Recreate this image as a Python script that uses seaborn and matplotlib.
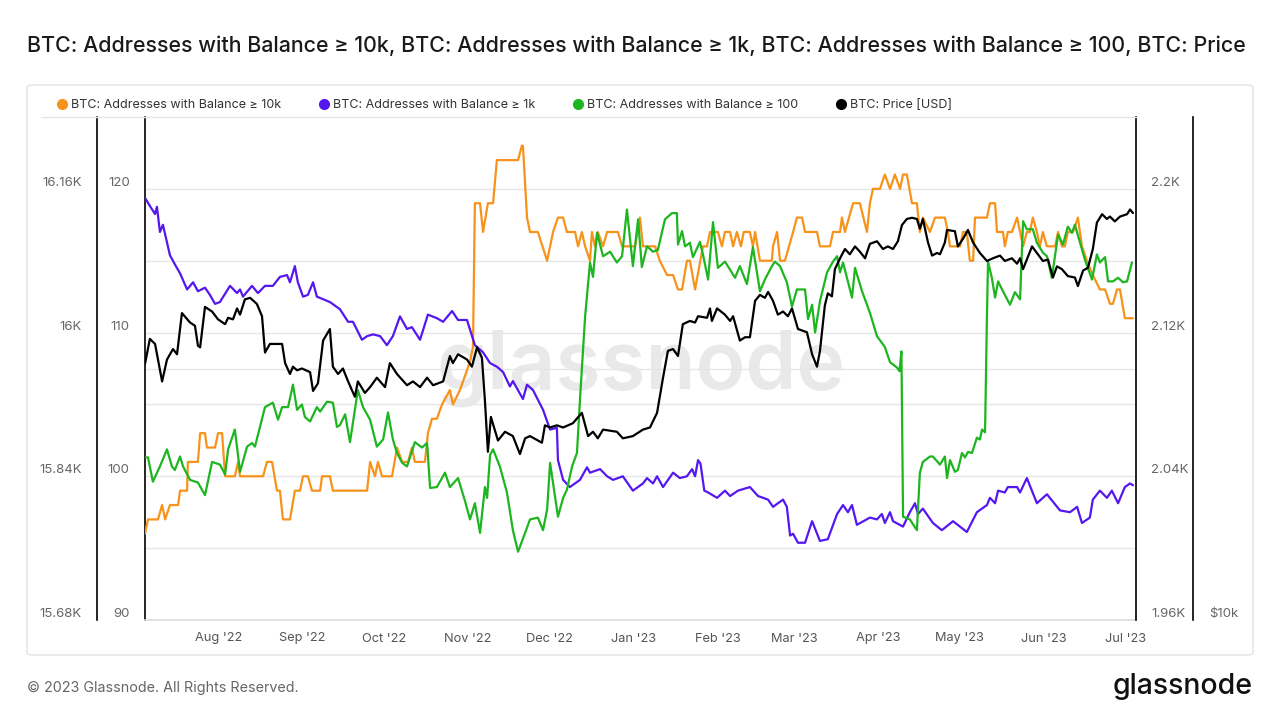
import pandas as pd
import numpy as np
import matplotlib
matplotlib.use('Agg')
import matplotlib.pyplot as plt
import matplotlib.dates as mdates
import seaborn as sns
from matplotlib.lines import Line2D
from matplotlib.patches import FancyBboxPatch
from matplotlib.ticker import FixedLocator, FuncFormatter, NullLocator
from matplotlib.transforms import blended_transform_factory

sns.set_theme(style='white')
plt.rcParams['font.family'] = ['Inter', 'DejaVu Sans']

# --- dati (giorni dal 2022-07-05, valore) ---
START = pd.Timestamp('2022-07-05')
TITLE = ('BTC: Addresses with Balance \u2265 10k, BTC: Addresses with Balance \u2265 1k, '
         'BTC: Addresses with Balance \u2265 100, BTC: Price')
LABELS = ['BTC: Addresses with Balance \u2265 10k', 'BTC: Addresses with Balance \u2265 1k',
          'BTC: Addresses with Balance \u2265 100', 'BTC: Price [USD]']
COLORS = ['#F7931A', '#5517F0', '#1DB520', '#000000']

ORANGE = [(0, 96), (1.1, 97), (4.8, 97), (6.3, 98), (7.4, 97), (9.2, 98), (12.2, 98), (12.9, 99), (15.5, 99), (15.8, 101),
          (19.5, 101), (20.3, 103), (22.1, 103), (22.8, 102), (25.8, 102), (26.9, 103), (28.4, 103), (29.5, 100), (33.1, 100), (34.3, 101),
          (35.0, 100), (43.5, 100), (44.9, 101), (46.8, 101), (48.6, 99), (49.7, 99), (50.8, 97), (53.4, 97), (55.2, 99), (57.1, 99),
          (58.2, 100), (60.0, 100), (61.5, 99), (64.5, 99), (65.2, 100), (68.1, 100), (69.2, 99), (81.8, 99), (82.9, 101), (84.7, 100),
          (85.8, 101), (87.3, 100), (91.0, 100), (92.8, 102), (94.7, 101), (96.9, 101), (98.3, 102), (99.4, 101), (103.1, 101), (104.2, 103),
          (105.7, 104), (107.5, 104), (109.4, 105), (112.3, 106), (113.4, 105), (116.0, 106), (117.9, 107), (119.7, 108), (120.8, 109), (121.5, 119),
          (123.4, 119), (124.5, 117), (126.3, 119), (128.2, 119), (129.6, 122), (137.4, 122), (138.8, 123), (139.2, 123), (140.7, 118), (141.8, 117),
          (144.7, 117), (148.1, 115), (150.3, 117), (152.1, 118), (154.0, 118), (155.4, 117), (158.4, 117), (159.5, 116), (160.9, 117), (162.1, 116),
          (163.9, 115), (164.6, 117), (165.7, 116), (166.8, 117), (168.7, 116), (170.2, 117), (174.2, 117), (175.7, 116), (180.5, 116), (182.3, 118),
          (183.4, 116), (187.9, 116), (189.6, 115), (192.3, 114), (194.5, 114), (196.3, 113), (197.8, 113), (199.6, 115), (200.7, 115), (202.6, 113),
          (205.5, 116), (207.0, 116), (208.1, 117), (211.0, 117), (212.5, 116), (213.6, 117), (215.5, 117), (216.6, 116), (218.0, 117), (219.5, 116),
          (220.5, 117), (222.8, 117), (223.9, 116), (224.7, 117), (226.5, 115), (230.9, 115), (231.3, 116), (232.8, 117), (233.9, 115), (235.7, 115),
          (238.7, 117), (240.1, 118), (242.0, 118), (243.1, 117), (247.5, 117), (248.6, 116), (252.3, 116), (253.4, 117), (256.0, 117), (256.7, 118),
          (257.8, 117), (260.8, 119), (263.3, 119), (265.9, 117), (267.0, 119), (268.1, 120), (270.7, 120), (272.5, 121), (274.4, 120), (276.2, 121),
          (278.1, 120), (279.2, 121), (280.6, 121), (282.5, 119), (284.3, 119), (285.4, 117), (286.5, 118), (289.1, 117), (291.0, 118), (294.6, 118),
          (295.7, 117), (296.5, 116), (300.2, 116), (301.3, 117), (302.7, 117), (303.8, 115), (305.0, 115), (305.7, 118), (310.1, 118), (311.2, 119),
          (313.1, 119), (313.8, 117), (316.0, 117), (316.7, 116), (317.8, 117), (319.3, 117), (321.2, 118), (322.3, 117), (323.4, 116), (324.8, 117),
          (325.9, 117), (327.0, 118), (328.5, 117), (329.6, 116), (330.7, 117), (332.2, 116), (335.2, 116), (336.3, 117), (337.7, 116), (338.8, 116),
          (339.9, 117), (341.8, 117), (343.6, 118), (345.1, 116), (346.9, 115), (349.1, 114), (351.7, 113), (353.6, 113), (355.4, 112), (356.5, 112),
          (358.0, 113), (359.1, 113), (360.9, 111), (363.9, 111)]

PURPLE = [(0, 2195), (2, 2190), (3.7, 2186), (4.4, 2190), (5.5, 2176), (6.6, 2180), (9.2, 2163), (11.0, 2158), (12.9, 2153), (15.5, 2144),
          (17.7, 2148), (19.5, 2143), (22.1, 2145), (23.9, 2141), (25.8, 2136), (27.6, 2137), (31.3, 2146), (33.9, 2142), (35.0, 2144), (36.1, 2140),
          (39.4, 2146), (41.6, 2142), (44.2, 2146), (47.1, 2146), (49.7, 2151), (52.3, 2152), (53.4, 2148), (55.2, 2157), (56.3, 2148), (58.2, 2140),
          (60.0, 2141), (61.9, 2148), (63.3, 2140), (68.1, 2137), (71.8, 2133), (74.8, 2126), (76.6, 2126), (79.9, 2116), (81.8, 2118), (84.0, 2119),
          (86.6, 2118), (89.1, 2113), (91.3, 2118), (93.9, 2129), (96.5, 2122), (98.3, 2123), (101.3, 2116), (104.2, 2130), (107.5, 2128), (109.8, 2126),
          (113.1, 2132), (115.3, 2127), (118.6, 2127), (121.5, 2113), (124.5, 2109), (127.1, 2103), (129.6, 2101), (131.9, 2098), (134.4, 2090), (135.5, 2093),
          (139.2, 2083), (140.7, 2091), (142.9, 2088), (146.6, 2077), (149.2, 2066), (151.7, 2067), (152.1, 2049), (154.0, 2038), (156.5, 2034), (160.2, 2038),
          (162.8, 2045), (163.9, 2042), (167.6, 2044), (170.2, 2040), (172.4, 2038), (176.0, 2040), (179.7, 2032), (183.4, 2036), (184.9, 2039), (187.1, 2036),
          (188.6, 2040), (190.8, 2034), (194.5, 2042), (197.0, 2039), (199.6, 2040), (201.5, 2044), (202.6, 2040), (203.7, 2049), (204.6, 2047), (206.0, 2032),
          (207.4, 2031), (210.7, 2028), (213.6, 2032), (215.5, 2029), (218.4, 2032), (222.8, 2034), (225.8, 2029), (229.5, 2027), (231.3, 2023), (235.0, 2027),
          (236.4, 2023), (237.6, 2007), (238.7, 2008), (240.5, 2003), (243.1, 2003), (245.7, 2015), (248.6, 2004), (251.5, 2005), (254.9, 2019), (257.1, 2024),
          (258.9, 2020), (260.4, 2024), (262.2, 2013), (267.0, 2017), (269.6, 2016), (271.4, 2019), (272.5, 2014), (274.4, 2020), (275.5, 2015), (279.2, 2012),
          (281.7, 2020), (283.6, 2025), (284.7, 2019), (286.5, 2022), (290.2, 2014), (293.5, 2010), (297.6, 2015), (302.7, 2009), (306.4, 2020), (310.1, 2024),
          (311.2, 2028), (313.1, 2025), (314.2, 2032), (316.7, 2031), (317.8, 2034), (321.2, 2034), (322.3, 2031), (324.8, 2039), (328.5, 2025), (332.2, 2030),
          (337.0, 2021), (340.7, 2020), (343.3, 2023), (345.1, 2014), (348.0, 2017), (349.1, 2027), (351.7, 2032), (354.3, 2028), (356.1, 2032), (358.4, 2025),
          (360.9, 2034), (362.8, 2036), (363.9, 2035)]

GREEN = [(0, 15861), (1.1, 15861), (2.9, 15834), (5.5, 15851), (8.1, 15870), (9.9, 15851), (11.0, 15847), (12.9, 15862), (14.0, 15851), (16.6, 15836),
         (19.5, 15833), (22.1, 15819), (24.7, 15856), (27.6, 15853), (29.5, 15842), (30.6, 15870), (33.1, 15892), (35.0, 15845), (37.6, 15873), (39.4, 15877),
         (40.5, 15873), (44.2, 15917), (47.1, 15922), (49.0, 15903), (50.5, 15917), (52.7, 15917), (54.5, 15942), (56.0, 15914), (57.8, 15920), (58.9, 15906),
         (60.8, 15901), (63.3, 15917), (64.5, 15912), (67.0, 15923), (69.2, 15922), (70.7, 15895), (71.8, 15897), (73.7, 15909), (75.5, 15878), (76.6, 15900),
         (78.4, 15936), (80.3, 15917), (82.9, 15903), (85.4, 15873), (87.7, 15881), (89.5, 15911), (91.3, 15881), (92.8, 15866), (94.7, 15855), (96.5, 15851),
         (99.4, 15878), (102.0, 15872), (103.9, 15877), (105.0, 15827), (107.5, 15828), (110.5, 15844), (112.3, 15828), (115.3, 15838), (117.9, 15812), (119.7, 15792),
         (121.5, 15810), (123.4, 15777), (125.2, 15828), (126.0, 15816), (127.1, 15864), (128.2, 15870), (130.7, 15851), (133.3, 15822), (135.5, 15780), (137.4, 15756),
         (140.0, 15777), (141.8, 15792), (144.7, 15794), (146.6, 15780), (148.1, 15803), (149.2, 15855), (152.1, 15795), (154.0, 15816), (155.4, 15825), (157.3, 15851),
         (159.1, 15866), (160.2, 15925), (162.1, 16018), (163.9, 16078), (165.0, 16062), (166.5, 16111), (168.7, 16085), (171.3, 16090), (173.8, 16078), (175.7, 16085),
         (177.5, 16137), (179.7, 16074), (181.6, 16126), (183.0, 16073), (184.9, 16096), (187.1, 16090), (188.9, 16092), (191.5, 16126), (194.1, 16133), (195.9, 16133),
         (196.3, 16098), (197.8, 16113), (198.9, 16096), (200.7, 16100), (201.8, 16084), (204.4, 16101), (205.5, 16087), (207.4, 16059), (209.2, 16123), (211.0, 16072),
         (213.6, 16079), (215.5, 16070), (217.3, 16061), (219.1, 16074), (221.7, 16054), (223.9, 16095), (226.5, 16046), (228.3, 16059), (230.9, 16074), (232.0, 16079),
         (233.9, 16074), (236.4, 16056), (238.3, 16029), (240.1, 16048), (243.1, 16048), (244.2, 16015), (245.7, 16031), (246.8, 16000), (248.6, 16035), (251.2, 16067),
         (253.4, 16079), (254.9, 16085), (256.0, 16067), (257.1, 16078), (260.4, 16039), (261.5, 16072), (264.1, 16046), (267.0, 16022), (269.6, 15996), (272.5, 15984),
         (274.4, 15967), (277.0, 15961), (277.9, 15957), (278.6, 15979), (279.2, 15795), (281.7, 15792), (284.3, 15780), (285.4, 15844), (286.5, 15856), (289.1, 15862),
         (290.2, 15862), (292.8, 15853), (294.6, 15862), (295.4, 15838), (296.5, 15858), (298.3, 15845), (299.4, 15847), (300.9, 15866), (302.0, 15861), (303.1, 15867),
         (304.6, 15866), (306.4, 15883), (307.5, 15881), (308.3, 15892), (309.4, 15889), (310.1, 16018), (310.5, 16079), (311.9, 16061), (313.1, 16039), (314.2, 16057),
         (316.0, 16046), (318.6, 16031), (320.4, 16045), (322.3, 16037), (323.4, 16124), (324.8, 16115), (327.0, 16115), (328.5, 16100), (330.7, 16089), (332.2, 16085),
         (334.0, 16061), (336.3, 16109), (338.1, 16098), (339.9, 16118), (341.4, 16111), (342.5, 16120), (344.4, 16100), (346.2, 16081), (348.8, 16059), (350.6, 16087),
         (351.7, 16078), (353.6, 16084), (354.7, 16057), (356.5, 16057), (358.4, 16061), (360.2, 16056), (361.7, 16057), (363.5, 16078)]

PRICE = [(0, 20260), (1.8, 21700), (3.7, 21400), (6.3, 19300), (8.1, 20500), (10.3, 21100), (11.8, 20800), (13.6, 23300), (16.6, 22700), (18.4, 22500),
         (19.5, 21300), (20.3, 21200), (22.1, 23700), (24.7, 23400), (26.9, 22900), (29.5, 22600), (30.6, 23000), (32.4, 22900), (33.9, 23600), (35.0, 23200),
         (36.8, 24200), (38.7, 24300), (41.2, 23900), (43.1, 23100), (44.2, 20900), (46.0, 21400), (50.5, 21400), (51.6, 20300), (53.4, 19700), (54.5, 20100),
         (56.0, 19900), (57.8, 20000), (60.8, 19800), (61.9, 18800), (63.7, 19200), (65.6, 21600), (68.1, 22300), (69.2, 20100), (71.1, 19700), (72.9, 20000),
         (74.8, 19300), (77.3, 18500), (78.4, 19300), (81.0, 18700), (82.9, 19000), (85.4, 19500), (88.4, 19000), (90.2, 20300), (92.8, 19700), (96.5, 19100),
         (98.7, 19300), (101.3, 19000), (103.9, 19500), (106.1, 19100), (109.8, 19300), (112.3, 20700), (113.4, 20300), (115.3, 20800), (118.6, 20500), (120.4, 20100),
         (122.3, 21200), (124.1, 20600), (125.2, 18300), (126.3, 15900), (127.4, 17500), (130.0, 16400), (132.6, 16800), (135.5, 16600), (138.1, 15800), (140.0, 16500),
         (141.8, 16600), (146.2, 16300), (147.3, 17100), (149.2, 17000), (151.7, 17100), (154.0, 17000), (157.6, 17200), (160.9, 17700), (163.2, 16600), (165.0, 16800),
         (166.8, 16500), (168.7, 16900), (173.8, 16800), (176.0, 16500), (179.7, 16600), (183.4, 16900), (186.0, 17000), (188.6, 17700), (190.8, 19500), (192.6, 21000),
         (194.5, 21100), (196.3, 20700), (198.1, 22600), (200.7, 22800), (202.6, 22700), (203.7, 23100), (207.0, 23000), (208.1, 23600), (208.8, 22800), (210.7, 23600),
         (213.6, 23200), (215.5, 22800), (216.6, 23100), (219.1, 21600), (221.0, 21800), (222.8, 21800), (224.7, 24100), (226.5, 24500), (228.3, 24300), (229.5, 24700),
         (231.3, 24100), (233.1, 23200), (235.0, 23400), (236.8, 23100), (238.3, 23600), (240.5, 22300), (243.8, 22100), (245.7, 20800), (247.5, 20100), (248.6, 21000),
         (250.4, 23800), (251.5, 24600), (253.0, 24400), (254.1, 26300), (256.0, 27100), (257.8, 27800), (259.6, 27400), (261.5, 28000), (263.3, 27600), (265.2, 27100),
         (267.0, 28200), (269.6, 28400), (271.8, 27800), (273.6, 28000), (275.5, 27800), (277.3, 28400), (278.8, 29700), (280.6, 30200), (282.5, 30300), (284.3, 30200),
         (285.4, 29400), (286.5, 30200), (288.4, 28300), (289.9, 27300), (291.7, 27500), (292.8, 27400), (294.6, 28300), (295.4, 29300), (298.3, 29200), (299.4, 28000),
         (301.3, 28600), (303.1, 29300), (305.0, 28300), (307.5, 27500), (310.1, 26900), (312.3, 27100), (314.9, 27300), (316.7, 26900), (319.3, 27100), (321.2, 26700),
         (322.3, 27100), (323.4, 26300), (326.7, 28000), (328.5, 27500), (330.7, 26900), (332.6, 27000), (334.4, 25700), (335.9, 26500), (337.7, 26300), (339.9, 25800),
         (342.5, 25700), (343.6, 25100), (345.5, 26200), (347.3, 26400), (349.1, 27800), (350.6, 29900), (352.5, 30600), (354.3, 30200), (355.4, 30400), (357.2, 30000),
         (359.1, 30400), (361.7, 30600), (362.8, 31000), (363.9, 30700)]

ORANGE_TICKS = [90, 100, 110, 120]
ORANGE_MINOR = [95, 105, 115]
GREEN_TICKS = [15680, 15840, 16000, 16160]
PURPLE_TICKS = [1960, 2040, 2120, 2200]
PRICE_TICKS = [10000]
PRICE_GRID = [20000]


def to_frame(pairs):
    days, vals = zip(*pairs)
    return pd.DataFrame({'date': START + pd.to_timedelta(list(days), unit='D'), 'value': list(vals)})


W, H = 1280, 720


def fx(px):
    return px / W


def fy(py):
    return 1 - py / H


fig = plt.figure(figsize=(12.8, 7.2), dpi=100)
fig.patch.set_facecolor('white')

# Riquadro del pannello
panel = FancyBboxPatch((fx(27), fy(655)), fx(1253) - fx(27), fy(85) - fy(655),
                       boxstyle='round,pad=0,rounding_size=0.004', transform=fig.transFigure,
                       facecolor='none', edgecolor='#e3e3e3', linewidth=1)
fig.add_artist(panel)

ax = fig.add_axes([fx(145), fy(620), fx(1136) - fx(145), fy(117) - fy(620)])
ax_p = ax.twinx()
ax_g = ax.twinx()
ax_b = ax.twinx()

series = [(ax, ORANGE, COLORS[0]), (ax_p, PURPLE, COLORS[1]), (ax_g, GREEN, COLORS[2]), (ax_b, PRICE, COLORS[3])]
for a, pairs, c in series:
    sns.lineplot(data=to_frame(pairs), x='date', y='value', ax=a, color=c, linewidth=1.6,
                 estimator=None, sort=False, legend=False, zorder=3)
    a.set_xlabel('')
    a.set_ylabel('')
    for s in a.spines.values():
        s.set_visible(False)

# Filigrana
ax.text(0.5, 0.5, 'glassnode', transform=ax.transAxes, ha='center', va='center',
        fontsize=59, color='#e9e9e9', fontweight='semibold', zorder=0)

# Asse arancione (principale)
ax.set_ylim(90, 125)
ax.yaxis.set_major_locator(FixedLocator(ORANGE_TICKS))
ax.yaxis.set_minor_locator(FixedLocator(ORANGE_MINOR))
ax.yaxis.set_major_formatter(FuncFormatter(lambda v, p: f'{v:g}'))
ax.grid(True, which='both', axis='y', color='#e6e6e6', linewidth=1)
ax.grid(False, axis='x')
ax.set_axisbelow(True)
ax.spines['left'].set_visible(True)
ax.spines['left'].set_color('black')
ax.spines['left'].set_linewidth(1.2)
ax.spines['bottom'].set_visible(True)
ax.spines['bottom'].set_color('#dddddd')
ax.tick_params(axis='y', which='both', length=0, pad=11, labelsize=9.5, labelcolor='#666666')

# Asse verde (sinistra esterna)
ax_g.set_ylim(15680, 16240)
ax_g.yaxis.tick_left()
ax_g.yaxis.set_major_locator(FixedLocator(GREEN_TICKS))
ax_g.yaxis.set_major_formatter(FuncFormatter(lambda v, p: f'{v / 1000:g}K'))
ax_g.spines['left'].set_visible(True)
ax_g.spines['left'].set_position(('axes', (97 - 145) / 991))
ax_g.spines['left'].set_color('black')
ax_g.spines['left'].set_linewidth(1.2)
ax_g.tick_params(axis='y', length=0, pad=11, labelsize=9.5, labelcolor='#666666')

# Asse viola (destra)
ax_p.set_ylim(1960, 2240)
ax_p.yaxis.set_major_locator(FixedLocator(PURPLE_TICKS))
ax_p.yaxis.set_major_formatter(FuncFormatter(lambda v, p: f'{v / 1000:g}K'))
ax_p.spines['right'].set_visible(True)
ax_p.spines['right'].set_color('black')
ax_p.spines['right'].set_linewidth(1.2)
ax_p.tick_params(axis='y', length=0, pad=11, labelsize=9.5, labelcolor='#666666')

# Asse prezzo (log, destra esterna)
ax_b.set_yscale('log')
ax_b.set_ylim(10000, 40000)
ax_b.yaxis.set_major_locator(FixedLocator(PRICE_TICKS))
ax_b.yaxis.set_minor_locator(NullLocator())
ax_b.yaxis.set_major_formatter(FuncFormatter(lambda v, p: f'${v / 1000:g}k'))
ax_b.spines['right'].set_visible(True)
ax_b.spines['right'].set_position(('axes', (1193 - 145) / 991))
ax_b.spines['right'].set_color('black')
ax_b.spines['right'].set_linewidth(1.2)
ax_b.tick_params(axis='y', which='both', length=0, pad=12, labelsize=9.5, labelcolor='#666666')

# Griglia del prezzo disegnata sotto le linee
for v in PRICE_GRID:
    ax.add_line(Line2D([0, 1], [v, v], transform=blended_transform_factory(ax.transAxes, ax_b.transData),
                       color='#e6e6e6', linewidth=1, zorder=0.5))

for a in (ax, ax_g, ax_p, ax_b):
    plt.setp(a.get_yticklabels(), va='bottom')

# Asse x
ax.set_xlim(START, START + pd.Timedelta(days=365))
ax.xaxis.set_major_locator(mdates.MonthLocator())
ax.xaxis.set_major_formatter(mdates.DateFormatter("%b '%y"))
ax.tick_params(axis='x', length=4, color='#dddddd', pad=5, labelsize=9.2, labelcolor='#555555')

# Linea superiore
fig.add_artist(Line2D([fx(41), fx(1136)], [fy(117), fy(117)], transform=fig.transFigure,
                      color='#e6e6e6', linewidth=1))

# Titolo
fig.text(fx(27), fy(46), TITLE, ha='left', va='center', fontsize=15.4, fontweight='medium', color='#1a1a1a')

# Legenda
handles = [Line2D([], [], marker='o', linestyle='', markersize=7, color=c) for c in COLORS]
fig.legend(handles, LABELS, loc='center left', bbox_to_anchor=(fx(57.5), fy(105)), ncol=4, frameon=False,
           fontsize=9, handlelength=0.7, handletextpad=0.35, columnspacing=3.1, borderaxespad=0, borderpad=0,
           labelcolor='#333333')

# Piè di pagina
fig.text(fx(27), fy(688), '\u00a9 2023 Glassnode. All Rights Reserved.', ha='left', va='center',
         fontsize=10.3, color='#666666')
fig.text(fx(1253), fy(686), 'glassnode', ha='right', va='center', fontsize=20.5, color='#111111',
         fontweight='medium')

fig.savefig('out.png', dpi=100, facecolor='white')
